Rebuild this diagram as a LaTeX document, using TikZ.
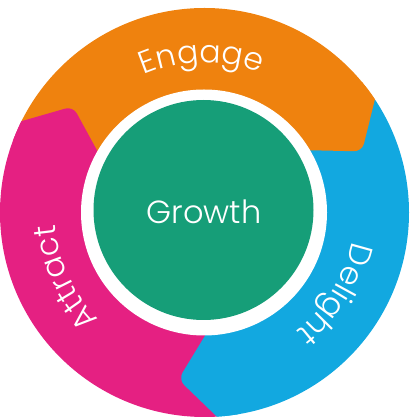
\documentclass[tikz,border=0pt]{standalone}
\usepackage{fontspec}
\setmainfont{Poppins}[UprightFont={* Light}]
\usetikzlibrary{calc,decorations.text}
\definecolor{cOrange}{RGB}{239,130,14}
\definecolor{cPink}{RGB}{229,32,130}
\definecolor{cBlue}{RGB}{18,168,224}
\definecolor{cGreen}{RGB}{22,158,120}
\newcommand\lblfmt{\fontsize{31.5}{38}\selectfont}
\tikzset{
  seglabel/.style={decorate, decoration={text along path, text align=center, text color=white, text={|\lblfmt|#1}}},
}
\begin{document}
\begin{tikzpicture}[x=1pt,y=1pt]
\useasboundingbox (0,0) rectangle (409,417);
\coordinate (C) at (204.5,204.5);
\coordinate (RC) at (204,204.5);
\coordinate (G) at (203.5,207);
\begin{scope}
  \clip (C) circle (204.5);
  \fill[cOrange] (C) -- ($(C)+(33.7:230)$) arc[start angle=33.7,end angle=153.6,radius=230] -- cycle;
  \fill[cPink] (C) -- ($(C)+(153.6:230)$) arc[start angle=153.6,end angle=273.6,radius=230] -- cycle;
  \fill[cBlue] (C) -- ($(C)+(-86.4:230)$) arc[start angle=-86.4,end angle=33.7,radius=230] -- cycle;
  \foreach \t/\c in {33.7/cOrange,153.6/cPink,273.6/cBlue}{
    \coordinate (I) at ($(C)+(\t-3.3:123)$);
    \coordinate (T) at ($(C)+(\t-12.5:169)$);
    \coordinate (O) at ($(C)+(\t:205)$);
    \fill[\c, rounded corners=8pt] ($(T)!1.5!(I)$) -- (T) -- ($(T)!1.4!(O)$) -- ($(C)+(\t+6:230)$) -- ($(C)+(\t+6:90)$) -- cycle;
  }
\end{scope}
\fill[white] (RC) circle (123);
\fill[cGreen] (G) circle (110);
\node[text=white, font=\fontsize{32}{38}\selectfont, anchor=base, inner sep=0pt] (growth) at (204,193.7) {Growth};
\path[seglabel=Engage] ($(C)+(136:150)$) arc[start angle=136, end angle=46, radius=150];
\path[seglabel=Delight] ($(C)+(13:150)$) arc[start angle=13, end angle=-77, radius=150];
\path[seglabel=Attract] ($(C)+(250:150)$) arc[start angle=250, end angle=160, radius=150];
\end{tikzpicture}
\end{document}
